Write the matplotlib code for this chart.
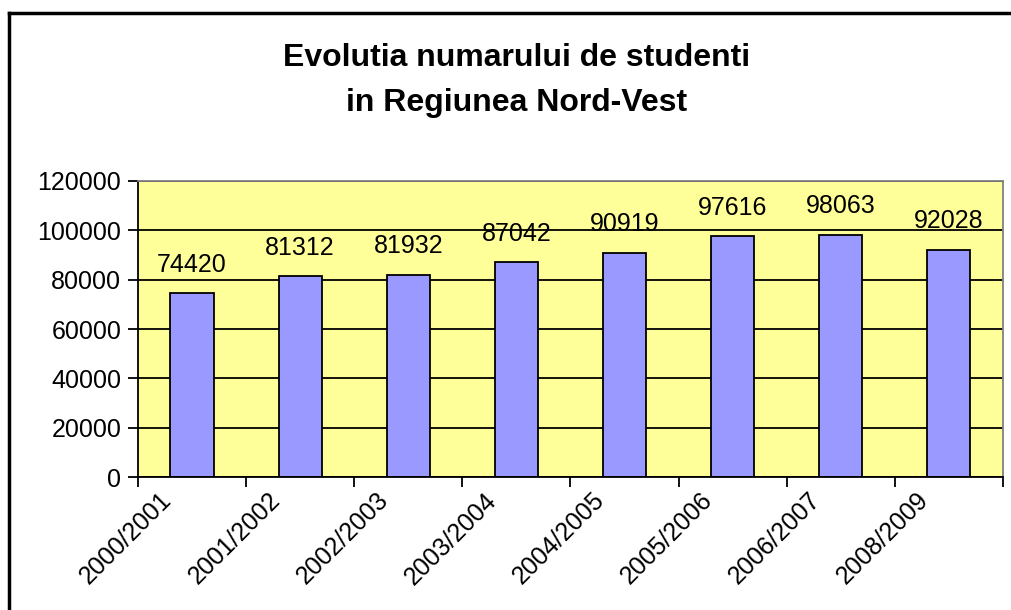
import matplotlib
matplotlib.use('Agg')
import matplotlib.pyplot as plt
from matplotlib.lines import Line2D
import numpy as np

matplotlib.rc('font', **{'family': ['Liberation Sans', 'DejaVu Sans']})

# date
ani = ['2000/2001', '2001/2002', '2002/2003', '2003/2004',
       '2004/2005', '2005/2006', '2006/2007', '2008/2009']
studenti = [74420, 81312, 81932, 87042, 90919, 97616, 98063, 92028]
yticks = [0, 20000, 40000, 60000, 80000, 100000, 120000]

fig = plt.figure(figsize=(10.11, 6.10), dpi=100)
ax = fig.add_axes([0.1365, 0.218, 0.8555, 0.4853])
ax.set_facecolor('#FFFF99')

x = np.arange(len(ani))
ax.set_axisbelow(True)
ax.yaxis.grid(True, color='black', linewidth=1.3)
ax.bar(x, studenti, width=0.4, color='#9999FF', edgecolor='black', linewidth=1.3)

for xi, v in zip(x, studenti):
    ax.annotate(str(v), (xi, v), xytext=(0, 12), textcoords='offset points',
                ha='center', va='bottom', fontsize=18)

ax.set_xlim(-0.5, len(ani) - 0.5)
ax.set_ylim(0, 120000)
ax.set_yticks(yticks)
ax.set_yticklabels([str(t) for t in yticks], fontsize=18)
ax.tick_params(axis='y', length=7, width=1.3, pad=5)

# ticks la granita categoriilor, etichete langa centru
ax.set_xticks(np.arange(len(ani) + 1) - 0.5)
ax.set_xticklabels([])
ax.tick_params(axis='x', which='major', length=7, width=1.3)
ax.set_xticks(x - 0.30, minor=True)
ax.set_xticklabels(ani, minor=True, rotation=45, ha='right', va='top',
                   rotation_mode='anchor', fontsize=18)
ax.tick_params(axis='x', which='minor', length=0, pad=8)

for s in ['left', 'bottom']:
    ax.spines[s].set_linewidth(1.3)
for s in ['top', 'right']:
    ax.spines[s].set_color('#808080')
    ax.spines[s].set_linewidth(1.3)

fig.text(0.511, 0.905, 'Evolutia numarului de studenti',
         ha='center', va='center', fontsize=23, fontweight='bold')
fig.text(0.511, 0.831, 'in Regiunea Nord-Vest',
         ha='center', va='center', fontsize=23, fontweight='bold')

# chenar
fig.add_artist(Line2D([0.009, 0.009], [0, 0.979], color='black', linewidth=2.5,
                      transform=fig.transFigure))
fig.add_artist(Line2D([0.009, 1.0], [0.979, 0.979], color='black', linewidth=2.5,
                      transform=fig.transFigure))

fig.savefig('out.png', dpi=100)
